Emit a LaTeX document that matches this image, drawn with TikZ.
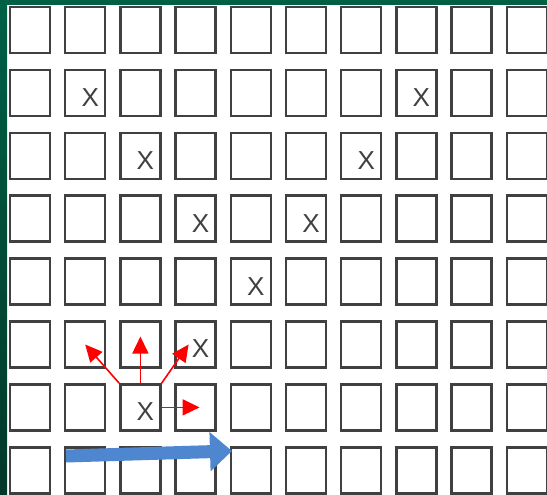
\documentclass[tikz,border=0pt]{standalone}
\usepackage{fontspec}
\setmainfont{Liberation Sans}
\usetikzlibrary{arrows.meta,calc}
\definecolor{frameg}{RGB}{0,96,70}
\definecolor{frameg2}{RGB}{2,56,40}
\definecolor{boxline}{RGB}{64,64,64}
\definecolor{bluearr}{RGB}{79,134,208}
\tikzset{
 cell/.style={draw=boxline, line width=2.5pt, minimum width=40pt, minimum height=46pt, inner sep=0pt, fill=white},
 xmark/.style={text=boxline, font=\fontsize{26}{26}\selectfont, inner sep=0pt},
 redarr/.style={draw=red, line width=1.6pt, -{Triangle[length=17pt,width=16pt]}},
 bluearrow/.style={draw=bluearr, line width=13pt, -{Triangle[length=22pt,width=38pt]}},
}
\begin{document}
\begin{tikzpicture}[x=1pt,y=-1pt]
\useasboundingbox (0,0) rectangle (547,495);
\clip (0,0) rectangle (547,495);
\fill[white] (0,0) rectangle (547,495);
\shade[top color=frameg, bottom color=frameg2] (0,0) rectangle (7,495);
\fill[frameg] (0,0) rectangle (547,5);
\foreach \r in {1,...,8} \foreach \c in {1,...,10} {
  \node[cell] (b-\r-\c) at ({30+55.2*(\c-1)},{30+62.9*(\r-1)}) {};
}
\foreach \r/\c in {2/2,2/8,3/3,3/7,4/4,4/6,5/5,6/4,7/3}
  \node[xmark] (x-\r-\c) at ($(b-\r-\c.center)+(5,4.5)$) {X};
\draw[redarr] (b-7-3.north west) -- (b-6-2.center);
\draw[redarr] (b-7-3.north) -- ($(b-6-3.center)+(0,-8)$);
\draw[redarr] (b-7-3.north east) -- ($(b-6-4.center)+(-7,0)$);
\draw[redarr] (b-7-3.east) -- ($(b-7-4.center)+(4,0)$);
\coordinate (bstart) at (66,456);
\coordinate (bend) at (232,451);
\draw[bluearrow] (bstart) -- (bend);
\end{tikzpicture}
\end{document}
